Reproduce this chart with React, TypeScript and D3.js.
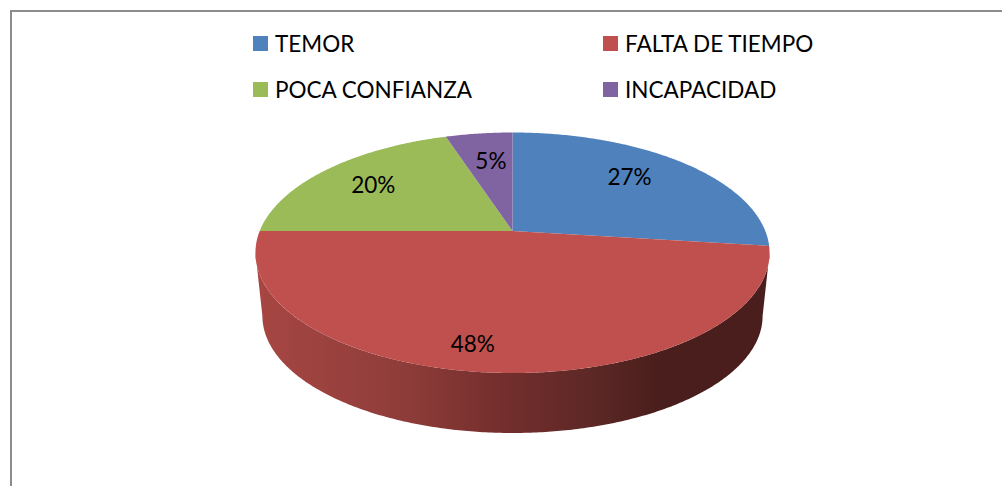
import React from 'react';
import * as d3 from 'd3';

const categories = ['TEMOR', 'FALTA DE TIEMPO', 'POCA CONFIANZA', 'INCAPACIDAD'];
const shares = [27, 48, 20, 5];
const colors = ['#4f81bd', '#c0504d', '#9bbb59', '#8064a2'];

const width = 1002;
const height = 486;

// pie seen in perspective: unit circle -> screen, the apex sits above the ellipse centre
const cx = 512.5;
const apexY = 231;
const scaleX = 252.8;
const scaleY = 74.5;
const tilt = -0.181;
const wallDrop = 63.8;
const wallShrink = 0.973;

const project = (angle: number, r = 1): [number, number] => {
  const u = Math.sin(angle) * r;
  const v = -Math.cos(angle) * r;
  const w = 1 + tilt * v;
  return [cx + (scaleX * u) / w, (apexY + scaleY * v) / w];
};

const projectBottom = (angle: number): [number, number] => {
  const [x, y] = project(angle);
  return [cx + (x - cx) * wallShrink, apexY + (y - apexY) * wallShrink + wallDrop];
};

const sweep = (a0: number, a1: number) => {
  const n = Math.max(2, Math.ceil(Math.abs(a1 - a0) / 0.01));
  return d3.range(n + 1).map(i => a0 + ((a1 - a0) * i) / n);
};

const line = d3.line();

const pieSlices = d3.pie<number>().sort(null)(shares);

// widest points of the projected circle, where the wall starts and ends
const wallStart = Math.acos(tilt);
const wallEnd = 2 * Math.PI - wallStart;

const wallPath =
  line([
    ...sweep(wallStart, wallEnd).map(a => project(a)),
    ...sweep(wallEnd, wallStart).map(a => projectBottom(a)),
  ]) + 'Z';

// nudges from the projected label point, in the same slice order
const labelNudges = [
  [-5.5, -4],
  [-27, 20],
  [-6, -1],
  [3, 1.5],
];

const wallStops = [
  { offset: 0, color: '#a74643' },
  { offset: 0.28, color: '#8f3d3a' },
  { offset: 0.48, color: '#742e2d' },
  { offset: 0.66, color: '#5c2826' },
  { offset: 0.78, color: '#4a1e1c' },
  { offset: 1, color: '#4a1e1c' },
];

const legendColumns = [253, 603];
const legendRows = [36, 82];
const fontFamily = 'Lato, Carlito, sans-serif';

export default function App() {
  return (
    <svg
      width={width}
      height={height}
      viewBox={`0 0 ${width} ${height}`}
      style={{ position: 'absolute', left: 0, top: 0, background: '#fff', fontFamily }}
    >
      <defs>
        <linearGradient id="wall" gradientUnits="userSpaceOnUse" x1={256} y1={0} x2={769} y2={0}>
          {wallStops.map(s => (
            <stop key={s.offset} offset={s.offset} stopColor={s.color} />
          ))}
        </linearGradient>
      </defs>

      {/* frame, only top and left show */}
      <path d={`M11 ${height}V11H${width}`} fill="none" stroke="#8c8c8c" strokeWidth={2} />

      {/* legend */}
      {categories.map((name, i) => (
        <g key={name} transform={`translate(${legendColumns[i % 2]}, ${legendRows[Math.floor(i / 2)]})`}>
          <rect width={15} height={15} fill={colors[i]} />
          <text x={22} y={16} fontSize={22.5} fill="#000">
            {name}
          </text>
        </g>
      ))}

      {/* side wall */}
      <path d={wallPath} fill="url(#wall)" />

      {/* top face */}
      {pieSlices.map((s, i) => (
        <path
          key={categories[i]}
          d={line([project(0, 0), ...sweep(s.startAngle, s.endAngle).map(a => project(a))]) + 'Z'}
          fill={colors[i]}
        />
      ))}

      {/* value labels */}
      {pieSlices.map((s, i) => {
        const [x, y] = project((s.startAngle + s.endAngle) / 2, 0.7);
        return (
          <text
            key={categories[i]}
            x={x + labelNudges[i][0]}
            y={y + labelNudges[i][1]}
            dy="0.35em"
            textAnchor="middle"
            fontSize={22.5}
            fill="#000"
          >
            {shares[i]}%
          </text>
        );
      })}
    </svg>
  );
}
